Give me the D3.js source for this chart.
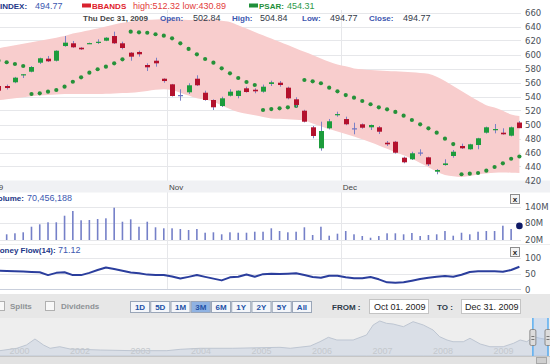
<!DOCTYPE html>
<html>
<head>
<meta charset="utf-8">
<script src="https://cdn.jsdelivr.net/npm/d3@7"></script>
<style>
html, body { margin: 0; padding: 0; background: #fff; overflow: hidden; }
svg { display: block; font-family: "Liberation Sans", Arial, sans-serif; }
</style>
</head>
<body>
<div id="result"></div>
<script>
// daily candles, Oct - Dec 2009 (index = trading day)
const open  = [555.0,555.0,560.3,571.0,575.4,588.3,594.0,591.1,612.1,616.0,609.7,615.6,617.5,619.7,626.4,616.0,602.6,603.6,585.0,591.1,565.4,557.4,542.1,546.0,565.4,545.4,535.0,526.4,541.1,540.7,551.7,549.7,546.9,557.9,559.7,552.6,536.0,519.7,496.0,466.0,494.6,514.2,507.8,494.6,500.3,496.0,496.0,474.0,475.4,452.6,450.3,460.0,453.1,432.6,442.1,455.0,469.3,464.6,470.7,488.3,492.8,488.3,484.0,502.84];
const high  = [556.5,557.0,568.0,572.0,583.5,595.5,597.9,606.0,626.4,619.3,610.5,617.0,621.7,624.8,632.6,618.3,603.5,605.4,587.4,595.4,566.0,558.0,550.3,558.9,570.3,548.3,536.0,539.7,550.3,549.0,554.0,551.7,557.0,562.6,562.1,554.0,538.9,521.0,497.9,504.0,507.9,518.3,511.2,502.6,501.5,500.0,497.9,476.4,476.5,454.0,461.1,464.6,454.0,436.4,450.3,463.6,472.6,472.5,481.0,497.0,500.7,494.6,497.0,504.84];
const low   = [547.0,550.0,559.0,566.4,574.5,586.4,589.3,590.0,611.0,609.5,606.5,615.2,615.0,619.0,615.0,607.4,591.1,596.9,576.4,582.6,559.7,540.0,534.0,543.6,555.0,534.0,520.7,525.0,540.0,537.4,545.5,544.6,545.4,555.0,554.0,536.0,524.6,503.0,480.3,462.6,493.0,511.2,499.0,486.0,494.0,492.1,486.4,469.3,458.5,444.6,449.3,455.4,440.7,428.9,441.1,452.6,465.0,464.0,464.6,487.0,487.4,485.5,483.0,494.77];
const close = [548.3,552.1,566.9,571.8,582.1,594.6,590.3,605.4,616.9,610.3,607.4,616.3,618.2,624.0,616.0,609.3,596.9,600.3,581.7,587.4,562.1,540.7,542.1,556.0,556.0,535.0,524.6,537.4,546.9,548.3,546.4,547.4,554.0,560.3,556.4,537.4,527.9,504.0,483.6,490.7,504.6,514.9,500.3,494.6,495.4,499.3,489.7,471.7,459.7,446.0,458.9,460.0,443.1,435.0,444.4,461.1,466.0,471.7,480.3,496.0,493.5,486.0,496.0,494.77];

// indicators
const bbUpper = [608.9,611.0,613.1,615.4,617.4,619.6,621.9,624.0,626.3,629.9,632.3,634.7,637.0,640.0,642.9,645.3,647.3,648.3,649.6,650.1,650.6,650.6,650.0,649.4,649.7,650.6,650.0,648.1,646.6,641.7,637.0,632.3,627.6,622.9,618.1,613.4,608.7,603.9,599.3,594.4,589.7,585.7,583.1,580.1,579.0,577.9,577.3,576.6,576.0,575.4,574.7,573.6,572.4,568.3,562.1,555.1,548.0,540.8,533.9,527.6,524.4,519.6,514.4,512.32];
const bbLower = [534.7,536.1,537.6,539.0,540.4,541.3,542.0,542.7,543.4,543.6,543.6,543.6,543.6,544.0,544.4,545.0,545.4,546.5,548.0,549.5,550.5,549.0,545.5,541.5,537.6,535.7,532.6,527.1,522.0,517.7,515.4,513.1,510.8,508.7,508.1,507.6,506.9,505.7,501.4,497.4,493.4,489.9,486.4,483.0,478.9,474.7,470.0,465.3,460.6,455.9,450.9,444.9,439.0,433.0,427.9,426.0,425.1,426.4,428.7,429.9,431.0,431.3,431.2,430.89];
const psar = [591.4,588.9,586.4,583.6,543.6,544.6,546.9,549.3,554.0,561.1,567.4,574.0,578.9,582.6,587.4,593.1,632.6,631.7,631.1,628.9,626.9,623.1,616.0,607.9,600.3,593.6,588.3,580.3,573.1,566.4,560.7,556.4,520.7,522.1,523.1,524.6,526.4,563.6,561.7,558.9,552.6,547.4,542.1,538.3,533.6,528.9,524.6,521.7,517.9,512.6,506.4,500.3,494.6,488.3,479.7,472.1,428.9,429.7,430.7,434.0,439.3,444.6,451.1,454.31];
const volume = [50.0,40.4,44.0,47.6,67.6,76.2,83.4,83.4,107.0,123.9,90.6,91.6,95.2,97.7,135.7,85.5,94.1,67.6,85.5,65.5,61.9,61.9,59.4,55.8,59.4,46.1,47.6,40.4,47.6,46.1,46.1,49.7,49.7,61.9,52.2,47.6,49.7,65.5,37.9,67.6,35.4,42.6,52.2,40.4,34.3,28.2,34.3,44.0,44.0,40.4,45.1,34.3,37.9,40.4,52.2,35.4,46.1,40.4,49.7,52.2,52.2,71.2,59.4,70.456188];
const moneyFlow = [58.7,58,57,56,55,54,45,52,54,45,45,52,61,69,64,58.5,53,51,46.5,45.5,45.5,40.5,34.5,39.5,45,39.5,34,28.5,38,40,47,40,48,49,48.4,49.5,50.6,45.3,39,37,43,43,38,35,35,39,31.8,22.4,21.3,22.4,27.6,32.8,37,40,42,40,46.3,54.7,56.8,56.8,56.8,55.7,61,71.12];

// month boundaries (index of first trading day) and labels
const monthStarts = [-3, 21, 42];
const monthLabels = ["Oct 2009", "Nov", "Dec"];

const priceTicks = [420,440,460,480,500,520,540,560,580,600,620,640,660];
const volumeTicks = [20, 80, 140];
const flowTicks = [0, 50, 100];

// navigator history
const navYears  = [2000.7,2000.94,2001.22,2001.38,2001.52,2001.66,2001.77,2001.93,2002.10,2002.60,2003.14,2003.70,2003.92,2004.25,2004.79,2005.57,2005.74,2006.07,2006.23,2006.37,2006.51,2006.78,2007.0,2007.11,2007.22,2007.33,2007.44,2007.61,2007.77,2007.94,2008.10,2008.21,2008.33,2008.43,2008.60,2008.71,2008.88,2009.04,2009.26,2009.43,2009.54,2009.65,2009.76,2009.87,2010.0];
const navValues = [90,98,142,203,313,203,142,171,129,110,98,98,123,142,142,160,142,184,263,344,295,295,387,571,645,602,589,540,632,571,479,355,295,263,263,326,221,171,171,234,295,263,355,326,300];
const navTickYears  = [2001,2002,2003,2004,2005,2006,2007,2008,2009];
const navTickLabels = ["2000","2002","2003","2004","2005","2006","2007","2008","2009"];
const navRange = [2009.75, 2010.0];

const rangeButtons = ["1D","5D","1M","3M","6M","1Y","2Y","5Y","All"];
const activeButton = "3M";

const W = 550, H = 364, plotRight = 521;

const svg = d3.select("#result").append("svg")
    .attr("width", W).attr("height", H);

const x = d3.scaleLinear().domain([0, close.length - 1]).range([-1.6, 519.4]);
const y = d3.scaleLinear().domain([420, 660]).range([180.5, 12.5]);
const yVol = d3.scaleLinear().domain([20, 140]).range([240, 206.5]);
const yMf = d3.scaleLinear().domain([0, 100]).range([289.5, 257.5]);
const xNav = d3.scaleLinear().domain([2009, 2010]).range([487.5, 548]);
const yNav = d3.scaleLinear().domain([0, 700]).range([356, 318]);

const idx = d3.range(close.length);

// horizontal grid
function hGrid(scale, ticks) {
    svg.append("g").selectAll("line").data(ticks).join("line")
        .attr("x1", 0).attr("x2", plotRight)
        .attr("y1", d => Math.round(scale(d)) + 0.5).attr("y2", d => Math.round(scale(d)) + 0.5)
        .attr("stroke", "#e6e7ea");
}
hGrid(y, priceTicks);
hGrid(yVol, volumeTicks);
hGrid(yMf, [50, 100]);
svg.append("line").attr("x1", 0).attr("x2", plotRight)
    .attr("y1", 289.5).attr("y2", 289.5).attr("stroke", "#c9cfdc");
svg.append("line").attr("x1", 0).attr("x2", W)
    .attr("y1", 244.5).attr("y2", 244.5).attr("stroke", "#eeeeee");

// month grid
svg.append("g").selectAll("line").data(monthStarts).join("line")
    .attr("x1", d => Math.round(x(d - 0.6)) + 0.5).attr("x2", d => Math.round(x(d - 0.6)) + 0.5)
    .attr("y1", 10).attr("y2", 289)
    .attr("stroke", "#e6e7ea");

// bollinger band
svg.append("path")
    .datum(idx)
    .attr("fill", "#f8cdcd")
    .attr("d", d3.area()
        .x(i => x(i))
        .y0(i => y(bbLower[i]))
        .y1(i => y(bbUpper[i]))
        .curve(d3.curveMonotoneX));

// psar
svg.append("g").selectAll("circle").data(idx).join("circle")
    .attr("cx", i => x(i)).attr("cy", i => y(psar[i]))
    .attr("r", 2.1).attr("fill", "#259239");

// candles
const candles = svg.append("g").selectAll("g").data(idx).join("g");
candles.append("line")
    .attr("x1", i => Math.round(x(i)) + 0.5).attr("x2", i => Math.round(x(i)) + 0.5)
    .attr("y1", i => y(high[i])).attr("y2", i => y(low[i]))
    .attr("stroke", "#7b80c6");
candles.append("rect")
    .attr("x", i => Math.round(x(i)) - 2)
    .attr("width", 5)
    .attr("y", i => y(Math.max(open[i], close[i])))
    .attr("height", i => Math.max(1.2, Math.abs(y(open[i]) - y(close[i]))))
    .attr("fill", i => close[i] > open[i] ? "#1c9c3c" : close[i] < open[i] ? "#b3112d" : "#6d74c2");

// date band
svg.append("rect").attr("x", 0).attr("y", 180.5).attr("width", W).attr("height", 12)
    .attr("fill", "#f0f1f4");
svg.append("g").selectAll("text").data(monthStarts).join("text")
    .attr("x", d => x(d - 0.6) + 2).attr("y", 189.5)
    .attr("font-size", 8).attr("fill", "#444")
    .text((d, i) => monthLabels[i]);

// volume bars
svg.append("g").selectAll("rect").data(idx.slice(0, -1)).join("rect")
    .attr("x", i => x(i) - 0.8).attr("width", 1.6)
    .attr("y", i => yVol(volume[i]))
    .attr("height", i => 240 - yVol(volume[i]))
    .attr("fill", "#7580c8");
svg.append("circle")
    .attr("cx", x(idx.length - 1)).attr("cy", yVol(volume[volume.length - 1]))
    .attr("r", 3.3).attr("fill", "#0f1a66");

// money flow
svg.append("path")
    .datum(idx)
    .attr("fill", "none")
    .attr("stroke", "#2b3e9d")
    .attr("stroke-width", 2)
    .attr("stroke-linejoin", "round")
    .attr("d", d3.line().x(i => x(i)).y(i => yMf(moneyFlow[i])));

// right axes
function rightAxis(scale, ticks, fmt) {
    const g = svg.append("g")
        .attr("transform", "translate(" + (plotRight + 1) + ",0)")
        .call(d3.axisRight(scale).tickValues(ticks).tickSize(0).tickPadding(3).tickFormat(fmt));
    g.select(".domain").remove();
    g.selectAll("text").attr("font-family", "DejaVu Sans, sans-serif")
        .attr("font-size", 8.5).attr("fill", "#4a5058");
}
rightAxis(y, priceTicks, d => d);
rightAxis(yVol, volumeTicks, d => d + "M");
rightAxis(yMf, flowTicks, d => d);

// legend / header text
function txt(xp, yp, s, opts) {
    return svg.append("text").attr("x", xp).attr("y", yp)
        .attr("font-size", opts.size || 8)
        .attr("font-weight", opts.bold ? "bold" : "normal")
        .attr("fill", opts.color)
        .text(s);
}
const last = close.length - 1;
txt(0, 9, "INDEX:", { bold: true, color: "#1d3788" });
txt(35, 9, close[last].toFixed(2), { size: 9, color: "#3c58b0" });
svg.append("rect").attr("x", 82).attr("y", 3.5).attr("width", 9).attr("height", 4).attr("fill", "#d8222e");
txt(92, 9, "BBANDS", { bold: true, color: "#e0222c" });
txt(133, 9, "high:" + bbUpper[last].toFixed(2) + " low:" + bbLower[last].toFixed(2), { size: 9, color: "#e23b3b" });
svg.append("rect").attr("x", 249).attr("y", 3.5).attr("width", 9).attr("height", 4).attr("fill", "#1f8f3a");
txt(259, 9, "PSAR:", { bold: true, color: "#1f8f3a" });
txt(287, 9, psar[last].toFixed(2), { size: 9, color: "#2e9a4a" });

txt(83, 21, "Thu Dec 31, 2009", { bold: true, color: "#444" });
const ohlcLabels = [["Open:", 160, open[last], 193], ["High:", 232, high[last], 260],
                    ["Low:", 302, low[last], 330], ["Close:", 369, close[last], 403]];
ohlcLabels.forEach(d => {
    txt(d[1], 21, d[0], { bold: true, color: "#3c58b0" });
    txt(d[3], 21, d[2].toFixed(2), { size: 9, color: "#333a48" });
});

txt(-7, 201, "Volume:", { bold: true, color: "#1d3788" });
txt(27, 201, d3.format(",")(Math.round(volume[last] * 1e6)), { size: 9, color: "#3c58b0" });
txt(-7, 253, "Money Flow(14):", { bold: true, color: "#1d3788" });
txt(58, 253, moneyFlow[last].toFixed(2), { size: 9, color: "#3c58b0" });

// close boxes
[194.5, 247.5].forEach(yp => {
    svg.append("rect").attr("x", 510.5).attr("y", yp).attr("width", 9).attr("height", 9)
        .attr("fill", "#f4f4f4").attr("stroke", "#8c8c8c");
    svg.append("text").attr("x", 515).attr("y", yp + 7.5).attr("text-anchor", "middle")
        .attr("font-size", 8).attr("font-weight", "bold").attr("fill", "#222").text("x");
});

// control bar
svg.append("rect").attr("x", 0).attr("y", 294).attr("width", W).attr("height", 24).attr("fill", "#e7e7e7");
svg.append("rect").attr("x", -4.5).attr("y", 301.5).attr("width", 9).attr("height", 9)
    .attr("fill", "#f8f8f8").attr("stroke", "#b0b0b0");
txt(10, 309, "Splits", { bold: true, color: "#8e9296" });
svg.append("rect").attr("x", 45.5).attr("y", 301.5).attr("width", 9).attr("height", 9)
    .attr("fill", "#f8f8f8").attr("stroke", "#b0b0b0");
txt(61, 309, "Dividends", { bold: true, color: "#8e9296" });

const bx = d3.scaleBand().domain(rangeButtons).range([130, 311]).paddingInner(0.06);
const btn = svg.append("g").selectAll("g").data(rangeButtons).join("g");
btn.append("rect")
    .attr("x", d => bx(d) + 0.5).attr("y", 301.5)
    .attr("width", bx.bandwidth()).attr("height", 11)
    .attr("fill", d => d === activeButton ? "#8fb2e2" : "#f4f6fa")
    .attr("stroke", "#9aa6b8");
btn.append("text")
    .attr("x", d => bx(d) + bx.bandwidth() / 2 + 0.5).attr("y", 310)
    .attr("text-anchor", "middle").attr("font-size", 8).attr("font-weight", "bold")
    .attr("fill", "#2352a8").text(d => d);

txt(332, 310, "FROM :", { bold: true, color: "#2c3a48" });
svg.append("rect").attr("x", 369.5).attr("y", 299.5).attr("width", 59).attr("height", 14)
    .attr("fill", "#fff").attr("stroke", "#c4c4c4");
txt(374, 310, "Oct 01. 2009", { size: 9, color: "#222" });
txt(437, 310, "TO :", { bold: true, color: "#2c3a48" });
svg.append("rect").attr("x", 461.5).attr("y", 299.5).attr("width", 59).attr("height", 14)
    .attr("fill", "#fff").attr("stroke", "#c4c4c4");
txt(465, 310, "Dec 31. 2009", { size: 9, color: "#222" });

// navigator
svg.append("rect").attr("x", 0).attr("y", 318).attr("width", W).attr("height", 38).attr("fill", "#eeeeee");
const navIdx = d3.range(navYears.length);
svg.append("path").datum(navIdx)
    .attr("fill", "#dadfe7")
    .attr("stroke", "#bec6d2")
    .attr("d", d3.area().x(i => xNav(navYears[i])).y0(356).y1(i => yNav(navValues[i])));
svg.append("g").selectAll("text").data(navTickYears).join("text")
    .attr("x", d => xNav(d) + 6).attr("y", 354)
    .attr("font-size", 9).attr("fill", "#c4c8cd")
    .text((d, i) => navTickLabels[i]);
const s0 = xNav(navRange[0]), s1 = xNav(navRange[1]);
svg.append("rect").attr("x", s0).attr("y", 318).attr("width", s1 - s0).attr("height", 38)
    .attr("fill", "#a9c6ea").attr("fill-opacity", 0.4);
[s0, s1].forEach(sx => {
    svg.append("line").attr("x1", sx).attr("x2", sx).attr("y1", 318).attr("y2", 356)
        .attr("stroke", "#5aaef0").attr("stroke-width", 1.5);
    svg.append("rect").attr("x", sx - 3).attr("y", 329.5).attr("width", 6).attr("height", 16).attr("rx", 1.5)
        .attr("fill", "#dcdcdc").attr("stroke", "#8a8a8a");
    [336, 339].forEach(gy => svg.append("line").attr("x1", sx - 1.5).attr("x2", sx + 1.5)
        .attr("y1", gy + 0.5).attr("y2", gy + 0.5).attr("stroke", "#777"));
});

// scrollbar
svg.append("rect").attr("x", 0).attr("y", 356).attr("width", W).attr("height", 8).attr("fill", "#e2e2e2");
svg.append("line").attr("x1", 0).attr("x2", W).attr("y1", 356.5).attr("y2", 356.5).attr("stroke", "#c6c6c6");
svg.append("rect").attr("x", 536.5).attr("y", 357.5).attr("width", 10).attr("height", 6)
    .attr("fill", "#cfcfcf").attr("stroke", "#a8a8a8");
</script>
</body>
</html>
